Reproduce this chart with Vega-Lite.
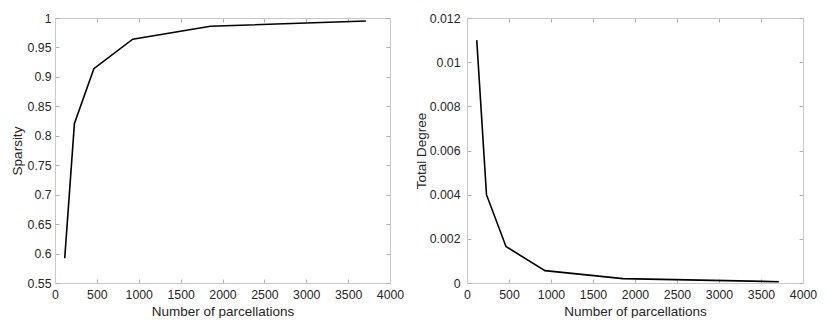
{
  "$schema": "https://vega.github.io/schema/vega-lite/v6.json",
  "padding": {"left": 10, "top": 12, "right": 0, "bottom": 0},
  "background": "white",
  "config": {
    "font": "Liberation Sans",
    "view": {"stroke": null},
    "axis": {
      "grid": false,
      "domainColor": "#c8c8c8",
      "domainWidth": 1,
      "tickColor": "#b0b0b0",
      "tickSize": -4,
      "labelColor": "#262626",
      "labelFontSize": 12.3,
      "labelFont": "Liberation Sans",
      "titleColor": "#262626",
      "titleFont": "Liberation Sans",
      "titleFontSize": 13.5,
      "titleFontWeight": "normal",
      "labelPadding": 6
    }
  },
  "spacing": 10,
  "datasets": {
    "sparsity": [
      {"n": 116, "v": 0.592},
      {"n": 232, "v": 0.821},
      {"n": 464, "v": 0.914},
      {"n": 928, "v": 0.964},
      {"n": 1856, "v": 0.986},
      {"n": 3712, "v": 0.995}
    ],
    "degree": [
      {"n": 116, "v": 0.011},
      {"n": 232, "v": 0.004},
      {"n": 464, "v": 0.00165},
      {"n": 928, "v": 0.00056},
      {"n": 1856, "v": 0.0002},
      {"n": 3712, "v": 0.00006}
    ]
  },
  "hconcat": [
    {
      "width": 335,
      "height": 265,
      "data": {"name": "sparsity"},
      "layer": [
        {
          "mark": {"type": "line", "color": "black", "strokeWidth": 1.6},
          "encoding": {
            "x": {"field": "n", "type": "quantitative", "scale": {"domain": [0, 4000], "nice": false},
                  "axis": {"title": "Number of parcellations", "format": "d", "values": [0,500,1000,1500,2000,2500,3000,3500,4000], "labelPadding": 9, "titlePadding": 4, "labelFlush": false}},
            "y": {"field": "v", "type": "quantitative", "scale": {"domain": [0.55, 1], "nice": false, "zero": false},
                  "axis": {"title": "Sparsity", "format": "~g", "values": [0.55,0.6,0.65,0.7,0.75,0.8,0.85,0.9,0.95,1], "labelPadding": 8, "titlePadding": 3, "labelFlush": false}}
          }
        },
        {
          "mark": {"type": "line", "opacity": 0},
          "encoding": {
            "x": {"field": "n", "type": "quantitative", "axis": {"orient": "top", "title": null, "labels": false, "values": [0,500,1000,1500,2000,2500,3000,3500,4000]}},
            "y": {"field": "v", "type": "quantitative", "axis": {"orient": "right", "title": null, "labels": false, "values": [0.55,0.6,0.65,0.7,0.75,0.8,0.85,0.9,0.95,1]}}
          }
        }
      ],
      "resolve": {"axis": {"x": "independent", "y": "independent"}}
    },
    {
      "width": 336,
      "height": 265,
      "data": {"name": "degree"},
      "layer": [
        {
          "mark": {"type": "line", "color": "black", "strokeWidth": 1.6},
          "encoding": {
            "x": {"field": "n", "type": "quantitative", "scale": {"domain": [0, 4000], "nice": false},
                  "axis": {"title": "Number of parcellations", "format": "d", "values": [0,500,1000,1500,2000,2500,3000,3500,4000], "labelPadding": 9, "titlePadding": 4, "labelFlush": false}},
            "y": {"field": "v", "type": "quantitative", "scale": {"domain": [0, 0.012], "nice": false},
                  "axis": {"title": "Total Degree", "format": "~g", "values": [0,0.002,0.004,0.006,0.008,0.01,0.012], "labelPadding": 11, "titlePadding": 1, "labelFlush": false}}
          }
        },
        {
          "mark": {"type": "line", "opacity": 0},
          "encoding": {
            "x": {"field": "n", "type": "quantitative", "axis": {"orient": "top", "title": null, "labels": false, "values": [0,500,1000,1500,2000,2500,3000,3500,4000]}},
            "y": {"field": "v", "type": "quantitative", "axis": {"orient": "right", "title": null, "labels": false, "values": [0,0.002,0.004,0.006,0.008,0.01,0.012]}}
          }
        }
      ],
      "resolve": {"axis": {"x": "independent", "y": "independent"}}
    }
  ]
}
